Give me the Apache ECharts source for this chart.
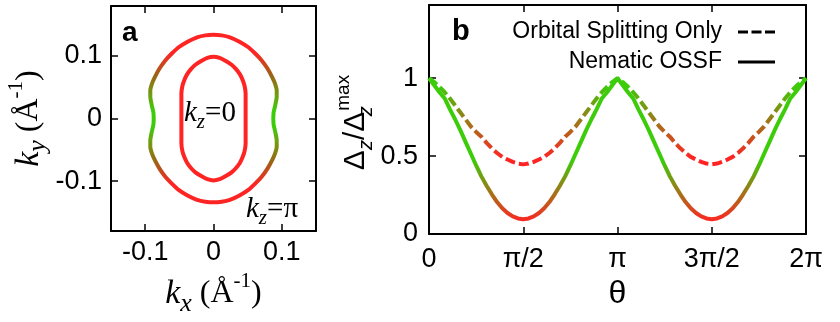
<!DOCTYPE html>
<html><head><meta charset="utf-8">
<script src="https://cdn.jsdelivr.net/npm/echarts@6/dist/echarts.min.js"></script>
<style>html,body{margin:0;padding:0;background:#fff}#c{width:840px;height:322px}</style>
</head><body><div id="c"></div>
<script>
// ---------- Panel a: Fermi surface contours (kx, ky in 1/Å) ----------
const kTickValues = [-0.1, 0, 0.1];
// kz = 0 contour (inner)
const innerKx = [0.047,0.047,0.047,0.0455,0.0425,0.0385,0.033,0.0265,0.018,0.009,0,
  -0.009,-0.018,-0.0265,-0.033,-0.0385,-0.0425,-0.0455,-0.047,-0.047,-0.047,
  -0.047,-0.047,-0.0455,-0.0425,-0.0385,-0.033,-0.0265,-0.018,-0.009,0,
  0.009,0.018,0.0265,0.033,0.0385,0.0425,0.0455,0.047,0.047,0.047];
const innerKy = [0,0.02,0.04,0.052,0.062,0.071,0.079,0.086,0.092,0.097,0.099,
  0.097,0.092,0.086,0.079,0.071,0.062,0.052,0.04,0.02,0,
  -0.02,-0.04,-0.052,-0.062,-0.071,-0.079,-0.086,-0.092,-0.097,-0.099,
  -0.097,-0.092,-0.086,-0.079,-0.071,-0.062,-0.052,-0.04,-0.02,0];
// kz = π contour (outer)
const outerKx = [0.0875,0.088,0.0905,0.0925,0.0925,0.09,0.086,0.079,0.0705,0.061,0.051,0.038,0.024,0.012,0,
  -0.012,-0.024,-0.038,-0.051,-0.061,-0.0705,-0.079,-0.086,-0.09,-0.0925,-0.0925,-0.0905,-0.088,-0.0875,
  -0.088,-0.0905,-0.0925,-0.0925,-0.09,-0.086,-0.079,-0.0705,-0.061,-0.051,-0.038,-0.024,-0.012,0,
  0.012,0.024,0.038,0.051,0.061,0.0705,0.079,0.086,0.09,0.0925,0.0925,0.0905,0.088,0.0875];
const outerKy = [0,0.01,0.022,0.035,0.045,0.056,0.066,0.08,0.093,0.104,0.114,0.123,0.13,0.133,0.134,
  0.133,0.13,0.123,0.114,0.104,0.093,0.08,0.066,0.056,0.045,0.035,0.022,0.01,0,
  -0.01,-0.022,-0.035,-0.045,-0.056,-0.066,-0.08,-0.093,-0.104,-0.114,-0.123,-0.13,-0.133,-0.134,
  -0.133,-0.13,-0.123,-0.114,-0.104,-0.093,-0.08,-0.066,-0.056,-0.045,-0.035,-0.022,-0.01,0];

// ---------- Panel b: gap anisotropy vs theta (degrees) ----------
const thetaDeg = [0,5,10,15,20,25,30,35,40,45,50,55,60,65,70,75,80,85,90,
  95,100,105,110,115,120,125,130,135,140,145,150,155,160,165,170,175,180,
  185,190,195,200,205,210,215,220,225,230,235,240,245,250,255,260,265,270,
  275,280,285,290,295,300,305,310,315,320,325,330,335,340,345,350,355,360];
const nematicOSSF = [1.00,0.955,0.91,0.87,0.80,0.735,0.665,0.59,0.515,0.44,0.37,0.31,0.255,0.205,0.165,0.135,0.113,0.10,0.095,
  0.10,0.113,0.135,0.165,0.205,0.255,0.31,0.37,0.44,0.515,0.59,0.665,0.735,0.80,0.87,0.91,0.955,1.00,
  0.955,0.91,0.87,0.80,0.735,0.665,0.59,0.515,0.44,0.37,0.31,0.255,0.205,0.165,0.135,0.113,0.10,0.095,
  0.10,0.113,0.135,0.165,0.205,0.255,0.31,0.37,0.44,0.515,0.59,0.665,0.735,0.80,0.87,0.91,0.955,1.00];
const orbitalOnly = [1.00,0.975,0.945,0.91,0.87,0.825,0.78,0.735,0.69,0.655,0.625,0.585,0.55,0.52,0.495,0.478,0.463,0.452,0.447,
  0.452,0.463,0.478,0.495,0.52,0.55,0.585,0.625,0.655,0.69,0.735,0.78,0.825,0.87,0.91,0.945,0.975,1.00,
  0.975,0.945,0.91,0.87,0.825,0.78,0.735,0.69,0.655,0.625,0.585,0.55,0.52,0.495,0.478,0.463,0.452,0.447,
  0.452,0.463,0.478,0.495,0.52,0.55,0.585,0.625,0.655,0.69,0.735,0.78,0.825,0.87,0.91,0.945,0.975,1.00];
const thetaTickValues = [0, 90, 180, 270, 360];
const thetaTickLabels = ['0', 'π/2', 'π', '3π/2', '2π'];
const gapTickValues = [0, 0.5, 1];
const seriesNames = ['Orbital Splitting Only', 'Nematic OSSF'];

const RED = '#ff2424', GREEN = '#3ccc0a';
const SANS = 'Liberation Sans, Arial, sans-serif';
const SERIF = 'Liberation Serif, Times New Roman, serif';

function zip(a, b) { return a.map((v, i) => [v, b[i]]); }
function vgrad(stops) {
  return new echarts.graphic.LinearGradient(0, 0, 0, 1, stops.map(s => ({offset: s[0], color: s[1]})));
}

const axisLineStyle = {color: '#000', width: 2};
function ticks(vals) {
  return {show: true, inside: true, length: 7, customValues: vals, lineStyle: {color: '#000', width: 1.5}};
}
function frameAxis(base, vals) {
  return Object.assign({
    axisLine: {show: true, onZero: false, lineStyle: axisLineStyle},
    axisTick: ticks(vals),
    splitLine: {show: false},
  }, base);
}
const tickFont = {color: '#000', fontFamily: SANS, fontSize: 27};

const kxRich = {
  k: {fontFamily: SERIF, fontStyle: 'italic', fontSize: 34, lineHeight: 46, color: '#000'},
  s: {fontFamily: SERIF, fontStyle: 'italic', fontSize: 26, lineHeight: 26, verticalAlign: 'bottom', color: '#000'},
  n: {fontFamily: SERIF, fontSize: 32, lineHeight: 46, color: '#000'},
  p: {fontFamily: SERIF, fontSize: 21, lineHeight: 21, verticalAlign: 'top', color: '#000'}
};
const gapRich = {
  d: {fontFamily: SANS, fontSize: 30, lineHeight: 42, color: '#000'},
  s: {fontFamily: SANS, fontStyle: 'italic', fontSize: 20, lineHeight: 20, verticalAlign: 'bottom', color: '#000'},
  z: {fontFamily: SANS, fontStyle: 'italic', fontSize: 20, lineHeight: 20, verticalAlign: 'bottom', width: 1, color: '#000'},
  p: {fontFamily: SANS, fontSize: 19, lineHeight: 19, verticalAlign: 'top', color: '#000'}
};
const annRich = {
  k: {fontFamily: SERIF, fontStyle: 'italic', fontSize: 29, lineHeight: 38, fill: '#000'},
  s: {fontFamily: SERIF, fontStyle: 'italic', fontSize: 21, lineHeight: 21, verticalAlign: 'bottom', fill: '#000'},
  n: {fontFamily: SERIF, fontSize: 29, lineHeight: 38, fill: '#000'}
};

const option = {
  animation: false,
  backgroundColor: '#fff',
  grid: [
    {left: 111, top: 6, width: 205, height: 228},
    {left: 429, top: 5, width: 377, height: 229}
  ],
  xAxis: [
    frameAxis({gridIndex: 0, type: 'value', min: -0.15, max: 0.15, position: 'bottom',
      name: '{k|k}{s|x}{n| (Å}{p|-1}{n|)}', nameLocation: 'middle', nameGap: 38,
      nameTextStyle: {rich: kxRich},
      axisLabel: {show: true, customValues: kTickValues, margin: 8, ...tickFont}}, kTickValues),
    frameAxis({gridIndex: 0, type: 'value', min: -0.15, max: 0.15, position: 'top',
      axisLabel: {show: false}}, kTickValues),
    frameAxis({gridIndex: 1, type: 'value', min: 0, max: 360, position: 'bottom',
      name: 'θ', nameLocation: 'middle', nameGap: 40,
      nameTextStyle: {fontFamily: SANS, fontSize: 32, color: '#000'},
      axisLabel: {show: true, customValues: thetaTickValues, margin: 12, ...tickFont,
        formatter: v => thetaTickLabels[thetaTickValues.indexOf(v)]}}, thetaTickValues),
    frameAxis({gridIndex: 1, type: 'value', min: 0, max: 360, position: 'top',
      axisLabel: {show: false}}, thetaTickValues),
  ],
  yAxis: [
    frameAxis({gridIndex: 0, type: 'value', min: -0.18, max: 0.18, position: 'left',
      name: '{k|k}{s|y}{n| (Å}{p|-1}{n|)}', nameLocation: 'middle', nameGap: 54, nameRotate: 90,
      nameTextStyle: {rich: kxRich, padding: [0, 0, 0, 0]},
      axisLabel: {show: true, customValues: kTickValues, margin: 9, ...tickFont}}, kTickValues),
    frameAxis({gridIndex: 0, type: 'value', min: -0.18, max: 0.18, position: 'right',
      axisLabel: {show: false}}, kTickValues),
    frameAxis({gridIndex: 1, type: 'value', min: 0, max: 1.47, position: 'left',
      name: '{d|Δ}{s|z}{d|/Δ}{z|z}{p|max}', nameLocation: 'middle', nameGap: 48, nameRotate: 90,
      nameTextStyle: {rich: gapRich, padding: [0, 6, 0, 0]},
      axisLabel: {show: true, customValues: gapTickValues, margin: 11, ...tickFont}}, gapTickValues),
    frameAxis({gridIndex: 1, type: 'value', min: 0, max: 1.47, position: 'right',
      axisLabel: {show: false}}, gapTickValues),
  ],
  legend: {
    orient: 'vertical', align: 'right', right: 60, top: 14,
    itemWidth: 37, itemHeight: 3, itemGap: 4,
    textStyle: {fontFamily: SANS, fontSize: 23, lineHeight: 26, color: '#000', padding: [0, 11, 0, 0]},
    data: [
      {name: seriesNames[0], icon: 'path://M0,0h10v3h-10zM13.5,0h10v3h-10zM27,0h10v3h-10z', itemStyle: {color: '#000'}},
      {name: seriesNames[1], icon: 'path://M0,0h37v3h-37z', itemStyle: {color: '#000'}}
    ]
  },
  series: [
    {type: 'line', name: 'kz=0', xAxisIndex: 0, yAxisIndex: 0, data: zip(innerKx, innerKy),
      symbol: 'none', smooth: 0.2, lineStyle: {color: RED, width: 4}},
    {type: 'line', name: 'kz=π', xAxisIndex: 0, yAxisIndex: 0, data: zip(outerKx, outerKy),
      symbol: 'none', smooth: 0.2,
      lineStyle: {width: 4, color: vgrad([[0, RED], [0.12, RED], [0.25, '#9a6515'], [0.37, '#6ea010'], [0.45, GREEN], [0.55, GREEN], [0.63, '#6ea010'], [0.75, '#9a6515'], [0.88, RED], [1, RED]])}},
    {type: 'line', name: seriesNames[0], xAxisIndex: 2, yAxisIndex: 2, data: zip(thetaDeg, orbitalOnly),
      symbol: 'none', lineStyle: {width: 4, type: [10, 4], color: vgrad([[0, GREEN], [0.1, GREEN], [0.9, RED], [1, RED]])}},
    {type: 'line', name: seriesNames[1], xAxisIndex: 2, yAxisIndex: 2, data: zip(thetaDeg, nematicOSSF),
      symbol: 'none', lineStyle: {width: 4, color: vgrad([[0, GREEN], [0.58, GREEN], [1, RED]])}},
  ],
  graphic: [
    {type: 'text', left: 122, top: 19, style: {text: 'a', fontFamily: SANS, fontWeight: 'bold', fontSize: 28, fill: '#000'}},
    {type: 'text', left: 452, top: 17, style: {text: 'b', fontFamily: SANS, fontWeight: 'bold', fontSize: 29, fill: '#000'}},
    {type: 'text', left: 184, top: 99, style: {text: '{k|k}{s|z}{n|=0}', rich: annRich}},
    {type: 'text', left: 246, top: 195, style: {text: '{k|k}{s|z}{n|=π}', rich: annRich}}
  ]
};
const chart = echarts.init(document.getElementById('c'), null, {renderer: 'canvas'});
chart.setOption(option);
</script></body></html>
